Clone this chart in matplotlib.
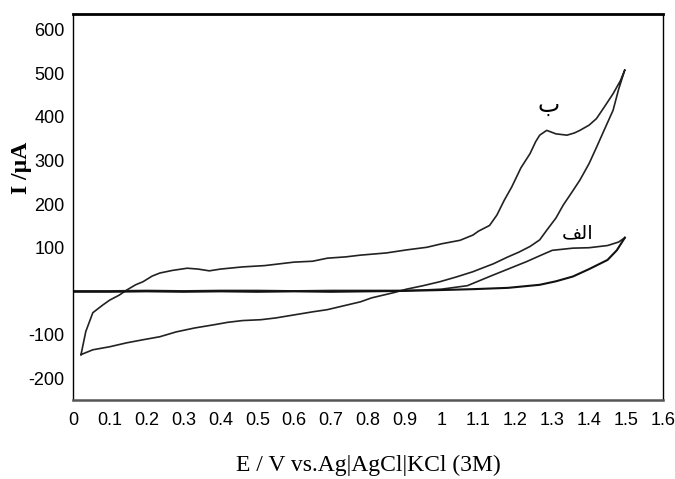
import matplotlib.pyplot as plt

# curve "ب" : closed loop, upper branch then return branch
E_b_fwd = [0.022, 0.035, 0.054, 0.08, 0.10, 0.125, 0.146, 0.17, 0.19, 0.215, 0.236, 0.27, 0.31,
           0.34, 0.37, 0.40, 0.46, 0.52, 0.60, 0.65, 0.69, 0.74, 0.78, 0.85, 0.905, 0.96, 1.00,
           1.05, 1.085, 1.10, 1.13, 1.15, 1.17, 1.19, 1.215, 1.24, 1.255, 1.266, 1.285, 1.31,
           1.34, 1.36, 1.375, 1.40, 1.42, 1.44, 1.465, 1.485, 1.497]
I_b_fwd = [-145, -92, -49, -32, -20, -9, 3, 15, 22, 35, 42, 48, 53, 51, 47, 51, 56, 59, 67, 69,
           76, 79, 83, 88, 95, 101, 109, 117, 129, 138, 151, 175, 209, 239, 283, 316, 343, 358,
           369, 361, 358, 363, 369, 381, 396, 421, 453, 483, 508]
E_b_rev = [1.497, 1.48, 1.465, 1.44, 1.42, 1.40, 1.375, 1.35, 1.33, 1.31, 1.285, 1.266, 1.24,
           1.21, 1.18, 1.14, 1.10, 1.085, 1.04, 0.995, 0.95, 0.905, 0.87, 0.84, 0.81, 0.78, 0.74,
           0.69, 0.65, 0.60, 0.55, 0.51, 0.46, 0.42, 0.38, 0.33, 0.28, 0.236, 0.19, 0.146, 0.10,
           0.054, 0.022]
I_b_rev = [508, 463, 415, 368, 330, 293, 255, 223, 198, 168, 140, 118, 103, 90, 79, 63, 50,
           45, 33, 22, 13, 5, -3, -9, -15, -24, -32, -42, -47, -54, -61, -65, -67, -71, -77,
           -84, -93, -104, -111, -118, -127, -134, -145]

# curve "الف"
E_a_fwd = [0.0, 0.1, 0.2, 0.3, 0.4, 0.5, 0.6, 0.7, 0.8, 0.9, 0.95, 1.0, 1.07, 1.13, 1.18,
           1.23, 1.27, 1.30, 1.356, 1.40, 1.45, 1.48, 1.497]
I_a_fwd = [1, 1, 2, 1, 2, 2, 1, 2, 2, 2, 3, 5, 13, 34, 51, 68, 83, 94, 99, 100, 105, 113, 123]
E_a_rev = [1.497, 1.475, 1.45, 1.40, 1.356, 1.31, 1.266, 1.18, 1.085, 1.0, 0.9, 0.8, 0.7, 0.6,
           0.5, 0.4, 0.3, 0.2, 0.1, 0.0]
I_a_rev = [123, 94, 72, 51, 34, 23, 15, 8, 5, 3, 1, 0, -1, 0, -1, 0, -1, 0, -1, -1]

x_ticks = [0, 0.1, 0.2, 0.3, 0.4, 0.5, 0.6, 0.7, 0.8, 0.9, 1, 1.1, 1.2, 1.3, 1.4, 1.5, 1.6]
x_tick_labels = ["0", "0.1", "0.2", "0.3", "0.4", "0.5", "0.6", "0.7", "0.8", "0.9", "1",
                 "1.1", "1.2", "1.3", "1.4", "1.5", "1.6"]
y_ticks = [600, 500, 400, 300, 200, 100, -100, -200]

tick_font = ["Liberation Sans Narrow", "Liberation Sans", "DejaVu Sans"]

fig = plt.figure(figsize=(6.75, 4.79), dpi=100)
ax = fig.add_axes([0.108, 0.165, 0.874, 0.806])

col = "#222222"
ax.plot(E_b_fwd + E_b_rev, I_b_fwd + I_b_rev, color=col, lw=1.2)
ax.plot(E_a_fwd, I_a_fwd, color=col, lw=1.2)
ax.plot(E_a_rev, I_a_rev, color="#111111", lw=1.5)

ax.set_xlim(0, 1.6)
ax.set_ylim(-249, 636)
ax.set_xticks(x_ticks)
ax.set_xticklabels(x_tick_labels, family=tick_font, fontsize=13)
ax.set_yticks(y_ticks)
ax.set_yticklabels([str(v) for v in y_ticks], family=tick_font, fontsize=13)
ax.tick_params(length=0)
ax.tick_params(axis="x", pad=9)
ax.tick_params(axis="y", pad=6)

for s in ["left", "right"]:
    ax.spines[s].set_linewidth(1.0)
ax.spines["top"].set_linewidth(2.0)
ax.spines["bottom"].set_linewidth(1.8)
ax.spines["bottom"].set_color("#555555")

ax.set_xlabel("E / V vs.Ag|AgCl|KCl (3M)", family="Liberation Serif", fontsize=17, labelpad=18)
ax.set_ylabel("I /µA", family="Liberation Serif", fontsize=17, fontweight="bold")
ax.yaxis.set_label_coords(-0.07, 0.6)

# labels on the curves (Arabic in presentation forms so the letters join)
ax.text(1.29, 428, "\u0628", family="DejaVu Sans", fontsize=17, ha="center", va="center")
ax.text(1.37, 135, "\ufed2\ufedf\ufe8d", family="DejaVu Sans", fontsize=14, ha="center", va="center")

fig.savefig("out.png", dpi=100)
